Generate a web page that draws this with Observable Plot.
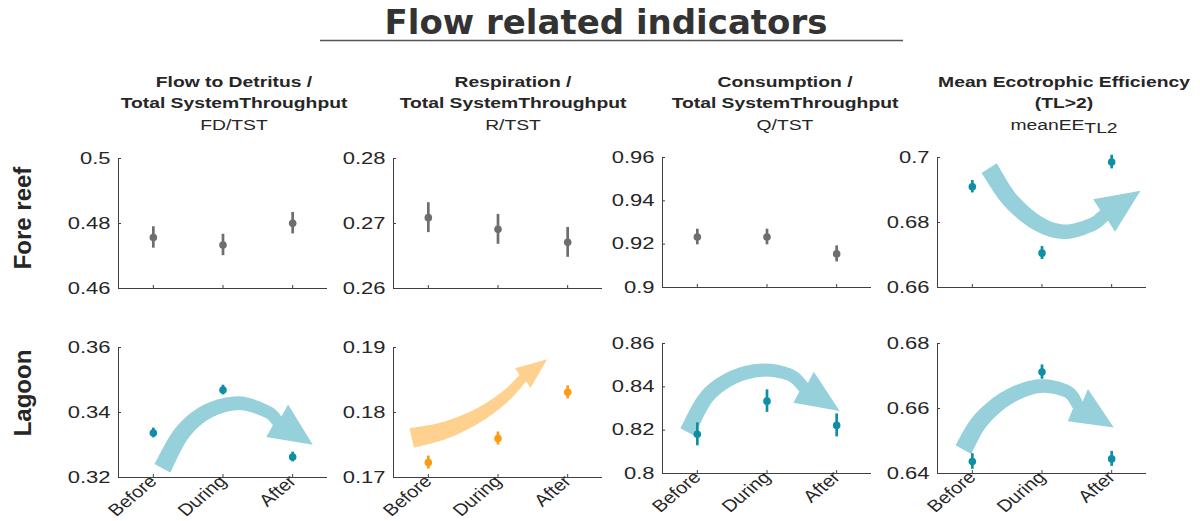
<!DOCTYPE html>
<html><head><meta charset="utf-8">
<script src="https://cdn.jsdelivr.net/npm/d3@7"></script>
<script src="https://cdn.jsdelivr.net/npm/@observablehq/plot@0.6"></script>
<style>
html,body{margin:0;padding:0;background:#fff;}
#fig{position:relative;width:1200px;height:521px;overflow:hidden;background:#fff;}
#fig svg{position:absolute;}
</style></head><body><div id="fig"></div>
<script>
// ---------------- data ----------------
const figureTitle = "Flow related indicators";
const periods = ["Before", "During", "After"];
const periodPos = [1, 2, 3];
const sites = ["Fore reef", "Lagoon"];
const indicatorTitle1 = ["Flow to Detritus /", "Respiration /", "Consumption /", "Mean Ecotrophic Efficiency"];
const indicatorTitle2 = ["Total SystemThroughput", "Total SystemThroughput", "Total SystemThroughput", "(TL>2)"];
const indicatorSymbol = ["FD/TST", "R/TST", "Q/TST", "meanEE"];
const indicatorSubscript = ["", "", "", "TL2"];

// Fore reef
const frFD = [0.4757, 0.4734, 0.4801];   const frFDerr = [0.0033, 0.0033, 0.0033];
const frR  = [0.2709, 0.2691, 0.2671];   const frRerr  = [0.0023, 0.0023, 0.0023];
const frQ  = [0.9233, 0.9233, 0.9155];   const frQerr  = [0.0036, 0.0036, 0.0037];
const frEE = [0.6910, 0.6706, 0.6986];   const frEEerr = [0.0019, 0.0020, 0.0021];
// Lagoon
const lgFD = [0.3337, 0.3469, 0.3263];   const lgFDerr = [0.0015, 0.0015, 0.0015];
const lgR  = [0.1723, 0.1760, 0.1831];   const lgRerr  = [0.0010, 0.0010, 0.0010];
const lgQ  = [0.8181, 0.8334, 0.8222];   const lgQerr  = [0.0053, 0.0052, 0.0053];
const lgEE = [0.6437, 0.6712, 0.6445];   const lgEEerr = [0.0024, 0.0022, 0.0023];

// y tick values and labels
const yTicksFrFD = [0.46, 0.48, 0.5];        const yLabelsFrFD = ["0.46", "0.48", "0.5"];
const yTicksFrR  = [0.26, 0.27, 0.28];       const yLabelsFrR  = ["0.26", "0.27", "0.28"];
const yTicksFrQ  = [0.9, 0.92, 0.94, 0.96];  const yLabelsFrQ  = ["0.9", "0.92", "0.94", "0.96"];
const yTicksFrEE = [0.66, 0.68, 0.7];        const yLabelsFrEE = ["0.66", "0.68", "0.7"];
const yTicksLgFD = [0.32, 0.34, 0.36];       const yLabelsLgFD = ["0.32", "0.34", "0.36"];
const yTicksLgR  = [0.17, 0.18, 0.19];       const yLabelsLgR  = ["0.17", "0.18", "0.19"];
const yTicksLgQ  = [0.8, 0.82, 0.84, 0.86];  const yLabelsLgQ  = ["0.8", "0.82", "0.84", "0.86"];
const yTicksLgEE = [0.64, 0.66, 0.68];       const yLabelsLgEE = ["0.64", "0.66", "0.68"];

// trend arrows: centre-line points in data units (last point = arrow tip)
const arrowFrEE = [[1.248,0.6966],[1.550,0.6868],[1.945,0.6796],[2.328,0.6770],[2.712,0.6791],[2.899,0.6820],[3.421,0.6896]];
const arrowLgFD = [[1.137,0.3227],[1.417,0.3335],[1.776,0.3401],[2.231,0.3427],[2.640,0.3401],[2.785,0.3373],[3.296,0.3299]];
const arrowLgR  = [[0.769,0.1760],[1.248,0.1772],[1.727,0.1795],[2.112,0.1824],[2.363,0.1852],[2.712,0.1881]];
const arrowLgQ  = [[0.864,0.8189],[1.143,0.8352],[1.526,0.8442],[1.958,0.8475],[2.342,0.8452],[2.533,0.8396],[3.051,0.8286]];
const arrowLgEE = [[0.878,0.6472],[1.119,0.6560],[1.503,0.6631],[1.958,0.6667],[2.366,0.6651],[2.522,0.6609],[3.037,0.6540]];

// ---------------- styles ----------------
const GRAY = "#6e6e6e", TEAL = "#0e8fa6", ORANGE = "#ff9b12";
const ARROW_TEAL = "#96d1db", ARROW_ORANGE = "#fed18f";
const AXIS = "#404040", TXT = "#262626";
const FONT = "'Liberation Sans', Arial, Helvetica, sans-serif";
const NS = "http://www.w3.org/2000/svg";

function catmull(P, seg) {
  const out = [], n = P.length;
  for (let i = 0; i < n - 1; i++) {
    const p0 = P[Math.max(i - 1, 0)], p1 = P[i], p2 = P[i + 1], p3 = P[Math.min(i + 2, n - 1)];
    for (let k = 0; k < seg; k++) {
      const t = k / seg, t2 = t * t, t3 = t2 * t;
      out.push([0, 1].map(j => 0.5 * (2 * p1[j] + (-p0[j] + p2[j]) * t +
        (2 * p0[j] - 5 * p1[j] + 4 * p2[j] - p3[j]) * t2 + (-p0[j] + 3 * p1[j] - 3 * p2[j] + p3[j]) * t3)));
    }
  }
  out.push(P[n - 1]);
  return out;
}

function arrowMark(points, fill, w0, w1, hw) {
  return (index, scales) => {
    const P = points.map(([a, b]) => [scales.x(a), scales.y(b)]);
    const tip = P[P.length - 1];
    const S = catmull(P.slice(0, -1), 20);
    const L = [0];
    for (let i = 1; i < S.length; i++) L.push(L[i - 1] + Math.hypot(S[i][0] - S[i - 1][0], S[i][1] - S[i - 1][1]));
    const total = L[L.length - 1];
    const left = [], right = [];
    S.forEach((p, i) => {
      const a = S[Math.max(i - 1, 0)], b = S[Math.min(i + 1, S.length - 1)];
      let tx = b[0] - a[0], ty = b[1] - a[1];
      const nn = Math.hypot(tx, ty) || 1; tx /= nn; ty /= nn;
      const w = (w0 + (w1 - w0) * L[i] / total) / 2;
      left.push([p[0] - ty * w, p[1] + tx * w]);
      right.push([p[0] + ty * w, p[1] - tx * w]);
    });
    const B = S[S.length - 1];
    let dx = tip[0] - B[0], dy = tip[1] - B[1];
    const dn = Math.hypot(dx, dy); dx /= dn; dy /= dn;
    const b1 = [B[0] - dy * hw, B[1] + dx * hw], b2 = [B[0] + dy * hw, B[1] - dx * hw];
    const pts = [...left, b1, tip, b2, ...right.reverse()];
    const path = document.createElementNS(NS, "path");
    path.setAttribute("d", "M" + pts.map(p => p[0].toFixed(2) + "," + p[1].toFixed(2)).join("L") + "Z");
    path.setAttribute("fill", fill);
    return path;
  };
}

function squash(root, selector, s) {
  root.querySelectorAll(selector).forEach(t => {
    let tr = t.getAttribute("transform");
    if (tr && /translate\(/.test(tr)) {
      t.setAttribute("transform", tr.replace(/(translate\([^)]*\))/, `$1 scale(1,${s})`));
    }
  });
}

const fig = document.getElementById("fig");

// ---------------- panels ----------------
const ML = 100, MR = 12, MT = 12, MB = 44, PW = 209, PH = 130;
const frameLeft = [118, 393, 662, 937];
const frameTop = [[158, 158, 157, 157], [347, 347, 343, 343]];

const panels = [
  [ {v: frFD, e: frFDerr, c: GRAY, t: yTicksFrFD, l: yLabelsFrFD, a: null},
    {v: frR,  e: frRerr,  c: GRAY, t: yTicksFrR,  l: yLabelsFrR,  a: null},
    {v: frQ,  e: frQerr,  c: GRAY, t: yTicksFrQ,  l: yLabelsFrQ,  a: null},
    {v: frEE, e: frEEerr, c: TEAL, t: yTicksFrEE, l: yLabelsFrEE, a: arrowMark(arrowFrEE, ARROW_TEAL, 18, 13, 19.5)} ],
  [ {v: lgFD, e: lgFDerr, c: TEAL,   t: yTicksLgFD, l: yLabelsLgFD, a: arrowMark(arrowLgFD, ARROW_TEAL, 18, 12, 19.5)},
    {v: lgR,  e: lgRerr,  c: ORANGE, t: yTicksLgR,  l: yLabelsLgR,  a: arrowMark(arrowLgR, ARROW_ORANGE, 20, 9, 12.5)},
    {v: lgQ,  e: lgQerr,  c: TEAL,   t: yTicksLgQ,  l: yLabelsLgQ,  a: arrowMark(arrowLgQ, ARROW_TEAL, 16, 12, 18.5)},
    {v: lgEE, e: lgEEerr, c: TEAL,   t: yTicksLgEE, l: yLabelsLgEE, a: arrowMark(arrowLgEE, ARROW_TEAL, 18, 12, 19)} ]
];

panels.forEach((row, r) => row.forEach((p, c) => {
  const data = periodPos.map((x, i) => ({x, y: p.v[i], lo: p.v[i] - p.e[i], hi: p.v[i] + p.e[i]}));
  const yMap = new Map(p.t.map((t, i) => [t, p.l[i]]));
  const xMap = new Map(periodPos.map((x, i) => [x, periods[i]]));
  const y0 = d3.min(p.t), y1 = d3.max(p.t);
  const showX = r === 1;
  const marks = [];
  if (p.a) marks.push(p.a);
  marks.push(
    Plot.ruleX([0.5], {stroke: AXIS, strokeWidth: 1}),
    Plot.ruleY([y0], {stroke: AXIS, strokeWidth: 1}),
    Plot.axisY({ticks: p.t, tickFormat: d => yMap.get(d), tickSize: -3, tickPadding: 11,
                stroke: AXIS, fill: TXT, fontSize: 22, label: null}),
    Plot.axisX({ticks: periodPos, tickFormat: d => showX ? xMap.get(d) : "", tickRotate: -45,
                tickSize: -3, tickPadding: 4, stroke: AXIS, fill: TXT, fontSize: 20, label: null}),
    Plot.ruleX(data, {x: "x", y1: "lo", y2: "hi", stroke: p.c, strokeWidth: 2.7}),
    Plot.dot(data, {x: "x", y: "y", r: 3.8, fill: p.c, stroke: "none"})
  );
  const svg = Plot.plot({
    width: ML + PW + MR, height: MT + PH + MB,
    marginLeft: ML, marginRight: MR, marginTop: MT, marginBottom: MB,
    x: {domain: [0.5, 3.5]},
    y: {domain: [y0, y1]},
    style: {fontFamily: FONT, background: "transparent", overflow: "visible", color: TXT},
    marks
  });
  svg.style.position = "absolute";
  svg.style.left = (frameLeft[c] - ML) + "px";
  svg.style.top = (frameTop[r][c] - MT) + "px";
  svg.style.maxWidth = "none";
  fig.appendChild(svg);
  squash(svg, "g[aria-label='y-axis tick label'] text", 0.72);
  squash(svg, "g[aria-label='x-axis tick label'] text", 0.84);
}));

// ---------------- titles & labels ----------------
const overlay = d3.select(fig).append("svg").attr("width", 1200).attr("height", 521)
  .style("left", "0px").style("top", "0px").style("pointer-events", "none");
overlay.append("text").attr("x", 606).attr("y", 34).attr("text-anchor", "middle")
  .attr("font-family", "'DejaVu Sans', sans-serif").attr("font-weight", "bold").attr("font-size", 34)
  .attr("fill", "#333").text(figureTitle);
overlay.append("line").attr("x1", 320).attr("x2", 903).attr("y1", 40.5).attr("y2", 40.5)
  .attr("stroke", "#555").attr("stroke-width", 1.6);

const titleCenters = [234, 513, 785, 1064];
const titleBaselines = [86.8, 108.3, 129.5];
const S_TITLE = 0.76;
titleCenters.forEach((cx, c) => {
  const lines = [indicatorTitle1[c], indicatorTitle2[c]];
  lines.forEach((ln, j) => {
    overlay.append("text").attr("transform", `translate(${cx},${titleBaselines[j]}) scale(1,${S_TITLE})`)
      .attr("text-anchor", "middle").attr("font-family", FONT).attr("font-size", 19.3)
      .attr("font-weight", "bold").attr("fill", TXT).text(ln);
  });
  const t = overlay.append("text").attr("transform", `translate(${cx},${titleBaselines[2]}) scale(1,${S_TITLE})`)
    .attr("text-anchor", "middle").attr("font-family", FONT).attr("font-size", 19.3).attr("fill", TXT);
  t.append("tspan").text(indicatorSymbol[c]);
  if (indicatorSubscript[c]) t.append("tspan").attr("dy", 5).text(indicatorSubscript[c]);
});

const rowCenters = [218, 393];
sites.forEach((s, i) => {
  overlay.append("text").attr("transform", `translate(31,${rowCenters[i]}) rotate(-90)`)
    .attr("text-anchor", "middle").attr("font-family", FONT).attr("font-size", 24)
    .attr("font-weight", "bold").attr("fill", TXT).text(s);
});
</script>
</body></html>
